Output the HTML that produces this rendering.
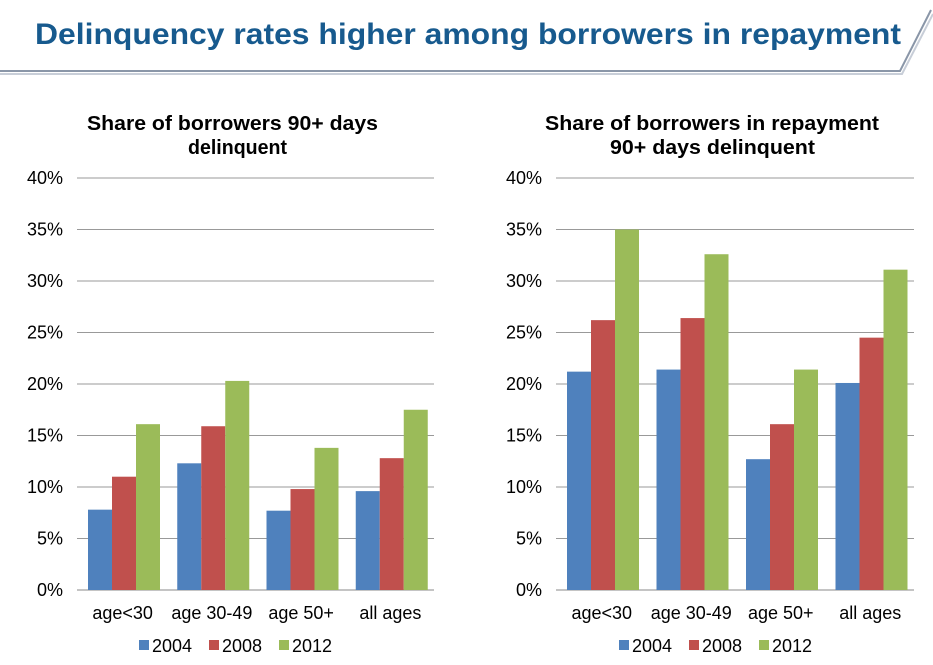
<!DOCTYPE html>
<html><head><meta charset="utf-8"><style>
html,body{margin:0;padding:0;background:#fff;}
svg{display:block;font-family:"Liberation Sans",Arial,sans-serif;}
</style></head><body>
<svg id="s" width="933" height="665" viewBox="0 0 933 665" xmlns="http://www.w3.org/2000/svg">
<polyline points="0,71 900,71 931,10" fill="none" stroke="#8a96a8" stroke-width="2"/>
<polyline points="0,74 902,74 933,14" fill="none" stroke="#c8ced8" stroke-width="2"/>
<text x="35" y="44" font-size="30" font-weight="bold" fill="#175a8e" textLength="866" lengthAdjust="spacingAndGlyphs">Delinquency rates higher among borrowers in repayment</text>
<text x="87" y="130" font-size="20" font-weight="bold" fill="#000" textLength="291" lengthAdjust="spacingAndGlyphs">Share of borrowers 90+ days</text>
<text x="188" y="154" font-size="20" font-weight="bold" fill="#000" textLength="99" lengthAdjust="spacingAndGlyphs">delinquent</text>
<text x="545" y="130" font-size="20" font-weight="bold" fill="#000" textLength="334" lengthAdjust="spacingAndGlyphs">Share of borrowers in repayment</text>
<text x="610" y="154" font-size="20" font-weight="bold" fill="#000" textLength="205" lengthAdjust="spacingAndGlyphs">90+ days delinquent</text>
<g id="g"></g>
</svg>
<script>
var g=document.getElementById('g'),h='';
var cols=['#4f81bd','#c0504d','#9bbb59'];
var cats=['age<30','age 30-49','age 50+','all ages'];
function chart(x0,x1,lx,legx,data){
  for(var i=0;i<=8;i++){var y=590-i*51.5;
    h+='<line x1="'+x0+'" x2="'+x1+'" y1="'+y+'" y2="'+y+'" stroke="'+(i==0?'#888':'#999')+'" stroke-width="1"/>';
    h+='<text x="'+lx+'" y="'+(y+6)+'" font-size="18" text-anchor="end">'+(i*5)+'%</text>';}
  var cw=(x1-x0)/4;
  for(var c=0;c<4;c++){
    for(var b=0;b<3;b++){var v=data[c][b];var bh=v*10.3;
      h+='<rect x="'+(x0+c*cw+11+b*24)+'" y="'+(590-bh)+'" width="24" height="'+bh+'" fill="'+cols[b]+'"/>';}
    h+='<text x="'+(x0+c*cw+cw/2+1)+'" y="619" font-size="18" text-anchor="middle">'+cats[c].replace('<','&lt;')+'</text>';
  }
  var yrs=['2004','2008','2012'];
  for(var k=0;k<3;k++){var xx=legx+k*70;
    h+='<rect x="'+xx+'" y="640" width="10" height="10" fill="'+cols[k]+'"/>';
    h+='<text x="'+(xx+13)+'" y="652" font-size="18">'+yrs[k]+'</text>';}
}
chart(77,434,63,139,[[7.8,11,16.1],[12.3,15.9,20.3],[7.7,9.8,13.8],[9.6,12.8,17.5]]);
chart(556,914,542,619,[[21.2,26.2,35],[21.4,26.4,32.6],[12.7,16.1,21.4],[20.1,24.5,31.1]]);
g.innerHTML=h;
</script>
</body></html>
